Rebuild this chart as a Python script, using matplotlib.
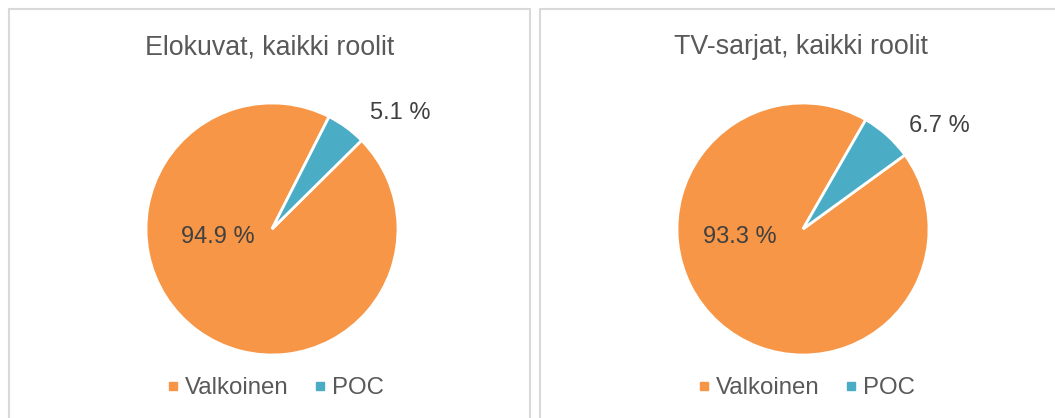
import matplotlib
matplotlib.use("Agg")
import matplotlib.pyplot as plt
from matplotlib.patches import Rectangle
from matplotlib.lines import Line2D

plt.rcParams['font.family'] = ['Liberation Sans', 'DejaVu Sans']

titles = ["Elokuvat, kaikki roolit", "TV-sarjat, kaikki roolit"]
categories = ["Valkoinen", "POC"]
shares = [[94.9, 5.1], [93.3, 6.7]]
start_angles = [44.7, 36.0]
colors = ["#F79646", "#4BACC6"]

W, H = 1055, 418
fig = plt.figure(figsize=(W / 100, H / 100), dpi=100)

# panel geometry in pixels: (left, right, pie center x)
panels = [(9, 530, 272), (540, 1062, 803)]
cy, R = 229, 126
# label offsets in pie-radius units (Excel "best fit" placement)
inner_pos = [(-0.43, -0.06), (-0.50, -0.06)]
outer_pos = [(1.02, 0.92), (1.08, 0.82)]

for i, (x0, x1, cx) in enumerate(panels):
    fig.patches.append(Rectangle((x0 / W, -0.1), (x1 - x0) / W, (H - 9) / H + 0.1,
                                 transform=fig.transFigure, fill=False,
                                 edgecolor="#D9D9D9", linewidth=1.5))

    ax = fig.add_axes([(cx - 1.5 * R) / W, (H - cy - 1.5 * R) / H, 3 * R / W, 3 * R / H])
    ax.pie(shares[i], colors=colors, startangle=start_angles[i], counterclock=False,
           wedgeprops=dict(edgecolor="white", linewidth=2))
    ax.set_xlim(-1.5, 1.5)
    ax.set_ylim(-1.5, 1.5)
    ax.set_aspect("equal")
    ax.axis("off")

    ax.text(*inner_pos[i], f"{shares[i][0]:.1f} %", ha="center", va="center",
            fontsize=17, color="#404040")
    ax.text(*outer_pos[i], f"{shares[i][1]:.1f} %", ha="center", va="center",
            fontsize=17, color="#404040")

    fig.text((x0 + x1) / 2 / W, 1 - 47 / H, titles[i], ha="center", va="center",
             fontsize=19.3, color="#595959")

    handles = [Line2D([], [], marker="s", linestyle="", markersize=5.5,
                      markerfacecolor=c, markeredgecolor=c) for c in colors]
    fig.legend(handles, categories, loc="center", ncol=2, frameon=False,
               bbox_to_anchor=((cx + 3) / W, 1 - 388 / H), fontsize=17.3,
               labelcolor="#595959", handlelength=0.55, handletextpad=0.2,
               columnspacing=1.05)

plt.savefig("out.png", dpi=100)
